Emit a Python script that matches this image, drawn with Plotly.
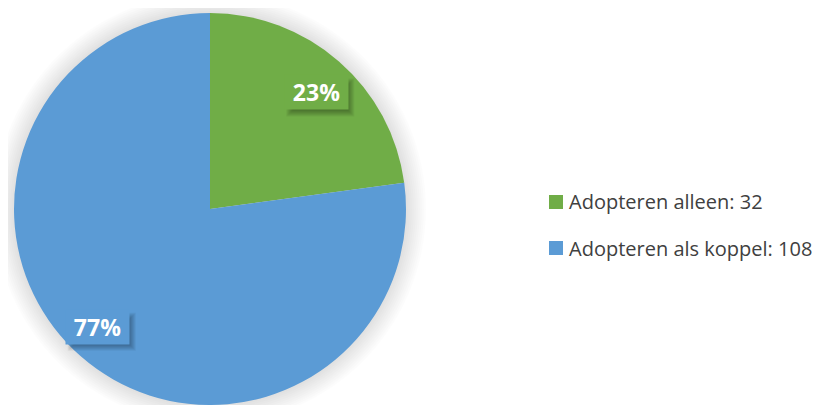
import math
import plotly.graph_objects as go

categories = ["Adopteren alleen", "Adopteren als koppel"]
values = [32, 108]
colors = ["#70AD47", "#5B9BD5"]

# page body has an 8px margin, so figure coords = window coords - 8
W, H = 813, 397
MT, MB = 5, 0
PLOT_H = H - MT - MB
R = PLOT_H / 2
CX_PX = 202
CY_PX = MT + PLOT_H / 2
DOM_X0, DOM_X1 = CX_PX - R, CX_PX + R

total = sum(values)
legend_labels = [f"{c}: {v}" for c, v in zip(categories, values)]


def px_to_paper(x, y):
    return x / W, (H - MB - y) / PLOT_H


fig = go.Figure(
    go.Pie(
        labels=legend_labels,
        values=values,
        marker=dict(colors=colors, line=dict(width=0)),
        sort=False,
        direction="clockwise",
        rotation=0,
        textinfo="none",
        hoverinfo="label+percent",
        domain=dict(x=[DOM_X0 / W, DOM_X1 / W], y=[0, 1]),
        showlegend=False,
    )
)

shapes = []
cxp, cyp = px_to_paper(CX_PX, CY_PX)
# soft outer shadow around pie
for k in range(10):
    rr = R + 2 + 2 * k
    shapes.append(dict(
        type="circle", layer="below", xref="paper", yref="paper",
        xsizemode="pixel", ysizemode="pixel", xanchor=cxp, yanchor=cyp,
        x0=-rr, x1=rr, y0=-rr, y1=rr,
        fillcolor="rgba(0,0,0,0.012)", line=dict(width=0),
    ))

annotations = []
label_radius = [0.805, 0.83]
label_angle_shift = [1.2, 2.5]
cum = 0
for v, col, rf, da in zip(values, colors, label_radius, label_angle_shift):
    mid = math.radians((cum + v / 2) / total * 360 + da)
    cum += v
    lx = CX_PX + rf * R * math.sin(mid)
    ly = CY_PX - rf * R * math.cos(mid)
    lxp, lyp = px_to_paper(lx, ly)
    for k in range(7):
        shapes.append(dict(
            type="rect", layer="above", xref="paper", yref="paper",
            xsizemode="pixel", ysizemode="pixel", xanchor=lxp, yanchor=lyp,
            x0=4 - 28 - k, x1=4 + 28 + k, y0=-5 - 13 - k, y1=-5 + 13 + k,
            fillcolor="rgba(0,0,0,0.05)", line=dict(width=0),
        ))
    annotations.append(dict(
        x=lxp, y=lyp, xref="paper", yref="paper", showarrow=False,
        text=f"<b>{round(v / total * 100)}%</b>",
        font=dict(family="Open Sans", size=23, color="white"),
        bgcolor=col, width=63, height=34, borderpad=0,
        xanchor="center", yanchor="middle",
    ))

# legend (drawn manually to match the spacing of the original)
LEG_SQ_X = 541
LEG_SQ = 14
LEG_TEXT_X = 559
LEG_Y0 = 194
LEG_DY = 46
for i, (lab, col) in enumerate(zip(legend_labels, colors)):
    yc = LEG_Y0 + i * LEG_DY
    x0p, y0p = px_to_paper(LEG_SQ_X, yc + LEG_SQ / 2)
    x1p, y1p = px_to_paper(LEG_SQ_X + LEG_SQ, yc - LEG_SQ / 2)
    shapes.append(dict(
        type="rect", layer="above", xref="paper", yref="paper",
        x0=x0p, x1=x1p, y0=y0p, y1=y1p,
        fillcolor=col, line=dict(width=0),
    ))
    txp, typ = px_to_paper(LEG_TEXT_X, yc)
    annotations.append(dict(
        x=txp, y=typ, xref="paper", yref="paper", showarrow=False,
        text=lab, xanchor="left", yanchor="middle",
        font=dict(family="Open Sans", size=20, color="#404040"),
    ))

fig.update_layout(
    width=W, height=H,
    margin=dict(l=0, r=0, t=MT, b=MB),
    paper_bgcolor="white", plot_bgcolor="white",
    shapes=shapes, annotations=annotations,
    showlegend=False,
)

fig.write_html("out.html")
